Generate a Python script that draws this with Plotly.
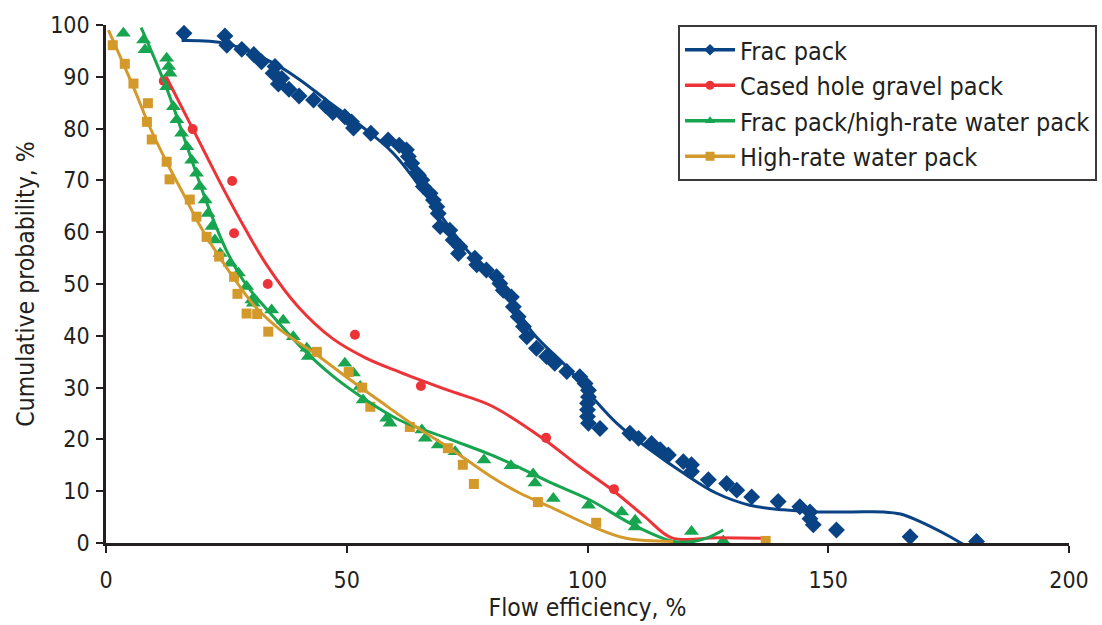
import plotly.graph_objects as go

# ---- Observed points (flow efficiency %, cumulative probability %) ----
frac_x = [16.2, 24.7, 25.1, 28.2, 30.7, 32.3, 35.1, 34.7, 36.5, 35.8, 38.0, 40.1, 43.1, 45.6,
          47.1, 49.6, 51.0, 51.4, 55.0, 58.6, 60.9, 62.4, 62.8, 63.5, 64.5, 64.9, 65.6, 65.9,
          67.3, 68.0, 68.7, 69.0, 69.4, 71.4, 72.1, 73.5, 73.2, 76.6, 77.0, 79.0, 81.1, 81.8,
          82.5, 84.2, 84.6, 85.6, 86.7, 87.4, 89.4, 91.5, 93.2, 95.7, 98.4, 99.5, 100.2, 100.2,
          100.0, 100.0, 100.0, 100.2, 102.6, 108.8, 110.6, 113.3, 115.1, 116.8, 119.9, 121.6,
          121.6, 125.1, 128.9, 131.0, 134.1, 139.6, 144.1, 146.2, 146.2, 146.9, 151.7, 167.0, 180.8]
frac_y = [98.4, 97.9, 96.1, 95.3, 94.3, 92.9, 92.0, 90.7, 89.7, 88.6, 87.6, 86.3, 85.5, 84.4,
          83.1, 82.3, 81.3, 80.1, 79.1, 77.8, 76.8, 75.9, 74.6, 73.3, 71.4, 71.0, 70.1, 68.8,
          67.5, 66.2, 64.9, 63.6, 61.1, 60.4, 58.5, 57.2, 55.9, 55.0, 53.7, 52.7, 51.4, 50.1,
          48.8, 47.5, 45.6, 43.7, 41.8, 39.8, 37.6, 36.0, 34.7, 33.1, 32.1, 30.8, 29.5, 28.2,
          27.0, 25.7, 24.4, 23.1, 22.1, 21.2, 20.2, 19.2, 18.0, 17.0, 15.7, 15.1,
          13.8, 12.2, 11.5, 10.2, 8.9, 8.0, 7.0, 6.0, 4.7, 3.5, 2.5, 1.2, 0.3]

cased_x = [12.0, 18.0, 26.2, 26.6, 33.6, 51.7, 65.4, 91.4, 105.5]
cased_y = [89.2, 79.9, 69.9, 59.8, 50.0, 40.2, 30.3, 20.3, 10.4]

fphr_x = [3.6, 7.8, 8.1, 12.6, 13.0, 13.3, 12.6, 14.0, 14.7, 15.7, 16.8, 17.8, 18.8, 19.5,
          20.6, 21.2, 22.0, 22.6, 23.7, 25.8, 27.5, 29.2, 30.3, 30.6, 34.4, 36.8, 38.9, 41.7,
          42.0, 49.6, 51.4, 52.8, 53.4, 58.3, 59.0, 65.6, 66.3, 69.0, 72.5, 78.5, 84.1, 88.7,
          89.1, 92.9, 100.2, 107.1, 109.9, 109.9, 121.6, 128.2]
fphr_y = [98.4, 97.1, 95.2, 93.6, 92.0, 90.7, 88.1, 84.2, 81.7, 79.1, 76.5, 73.9, 71.4, 68.8,
          66.2, 63.6, 61.1, 58.5, 55.9, 54.0, 52.1, 49.5, 46.9, 46.3, 45.0, 43.0, 39.8, 37.6,
          36.0, 34.7, 32.8, 30.2, 27.6, 24.1, 23.1, 21.8, 20.2, 18.9, 17.6, 16.0, 14.9, 13.3,
          11.6, 8.6, 7.3, 6.0, 4.4, 3.1, 2.2, 0.4]

hrwp_x = [1.4, 3.9, 5.7, 8.7, 8.5, 9.5, 12.6, 13.2, 17.4, 18.8, 20.9, 23.5, 26.6, 27.3,
          29.2, 31.4, 33.7, 43.8, 50.4, 53.2, 54.9, 63.1, 71.0, 74.1, 76.4, 89.7, 101.8, 137.0]
hrwp_y = [96.1, 92.5, 88.7, 84.9, 81.3, 77.9, 73.6, 70.2, 66.3, 63.0, 59.1, 55.3, 51.4, 48.1,
          44.3, 44.2, 40.8, 36.9, 33.0, 30.0, 26.3, 22.4, 18.3, 15.1, 11.4, 7.9, 3.9, 0.4]

# ---- Fitted trend curves ----
frac_fit_x = [15.7, 25.0, 34.7, 40.3, 45.8, 53.0, 59.7, 66.6, 74.9, 81.8, 88.7, 95.7, 100.5,
              106.1, 113.0, 119.9, 126.8, 133.7, 140.7, 147.6, 155.0, 161.5, 165.0, 168.4,
              175.3, 180.0]
frac_fit_y = [97.0, 96.4, 92.7, 89.4, 85.5, 80.5, 75.2, 67.0, 56.6, 50.1, 40.5, 34.0, 28.7,
              23.1, 18.0, 13.5, 9.6, 7.3, 6.4, 6.0, 6.0, 6.0, 5.6, 4.4, 1.2, -1.4]

cased_fit_x = [12.5, 18.0, 21.0, 24.3, 29.0, 33.5, 40.0, 47.0, 54.0, 61.0, 71.0, 80.0, 91.0,
               98.0, 105.5, 112.0, 117.5, 127.0, 136.0]
cased_fit_y = [90.0, 80.0, 74.5, 68.5, 60.5, 53.5, 45.5, 39.5, 35.7, 33.0, 29.5, 26.5, 20.0,
               15.0, 10.0, 5.0, 1.0, 1.0, 0.9]

fphr_fit_x = [7.3, 12.5, 17.4, 21.0, 25.0, 29.0, 33.5, 40.0, 47.0, 54.0, 61.0, 71.5, 80.0,
              86.0, 92.0, 100.5, 109.5, 117.8, 122.0, 125.4, 128.2]
fphr_fit_y = [99.5, 88.0, 75.0, 65.5, 56.5, 50.0, 45.0, 38.3, 32.3, 27.6, 23.7, 20.0, 17.0,
              14.5, 11.8, 8.3, 3.5, 0.3, 0.3, 1.2, 2.5]

hrwp_fit_x = [0.5, 5.7, 9.0, 12.6, 16.0, 19.5, 23.0, 27.8, 31.3, 36.0, 43.8, 50.0, 57.0,
              64.0, 71.4, 80.0, 86.0, 92.2, 101.2, 108.0, 117.8]
hrwp_fit_y = [99.0, 88.0, 80.5, 73.5, 67.5, 61.3, 56.0, 49.5, 45.3, 41.3, 36.3, 32.0, 27.3,
              22.7, 18.3, 12.8, 9.6, 7.0, 3.1, 0.9, 0.3]

x_ticks = [0, 50, 100, 150, 200]
y_ticks = [0, 10, 20, 30, 40, 50, 60, 70, 80, 90, 100]

FONT = "DejaVu Sans Condensed, Liberation Sans Narrow, Arial Narrow, sans-serif"
INK = "#231f20"

series = [
    ("Frac pack", frac_x, frac_y, frac_fit_x, frac_fit_y, "#0a4383", "diamond", 13),
    ("Cased hole gravel pack", cased_x, cased_y, cased_fit_x, cased_fit_y, "#ec3338", "circle", 10),
    ("Frac pack/high-rate water pack", fphr_x, fphr_y, fphr_fit_x, fphr_fit_y, "#17a54f", "triangle-up", 13),
    ("High-rate water pack", hrwp_x, hrwp_y, hrwp_fit_x, hrwp_fit_y, "#d4992b", "square", 10),
]

fig = go.Figure()

for name, px_, py_, fx, fy, color, symbol, size in series:
    fig.add_trace(go.Scatter(
        x=px_, y=py_, mode="markers", showlegend=False, legendgroup=name,
        marker=dict(symbol=symbol, size=size, color=color, line=dict(width=0)),
        hoverinfo="x+y", name=name))

for name, px_, py_, fx, fy, color, symbol, size in series:
    fig.add_trace(go.Scatter(
        x=fx, y=fy, mode="lines", showlegend=False, legendgroup=name,
        line=dict(color=color, width=3, shape="spline", smoothing=1.0),
        hoverinfo="skip", name=name))

# legend entries: line with marker
for name, px_, py_, fx, fy, color, symbol, size in series:
    fig.add_trace(go.Scatter(
        x=[None], y=[None], mode="lines+markers", name=name, legendgroup=name,
        line=dict(color=color, width=3.5),
        marker=dict(symbol=symbol, size=9, color=color)))

axis_common = dict(
    showline=True, linecolor=INK, linewidth=2.5, mirror=False,
    ticks="outside", tickcolor=INK, tickwidth=2, ticklen=7,
    showgrid=False, zeroline=False,
    tickfont=dict(family=FONT, size=23, color=INK),
)

fig.update_layout(
    width=1102, height=625,
    margin=dict(l=106, r=33, t=25, b=82, autoexpand=False),
    paper_bgcolor="white", plot_bgcolor="white",
    font=dict(family=FONT, color=INK),
    xaxis=dict(range=[0, 200], tickvals=x_ticks, ticklabelstandoff=8,
               title=dict(text="Flow efficiency, %", font=dict(family=FONT, size=24.5, color=INK),
                          standoff=4),
               **axis_common),
    yaxis=dict(range=[0, 100], tickvals=y_ticks, ticklabelstandoff=2,
               title=dict(text="Cumulative probability, %", font=dict(family=FONT, size=24.5, color=INK),
                          standoff=9),
               **axis_common),
    legend=dict(x=0.594, y=1.0, xanchor="left", yanchor="top",
                bgcolor="white", bordercolor="#3a3a3a", borderwidth=2,
                font=dict(family=FONT, size=25, color=INK),
                itemwidth=50, tracegroupgap=0),
)

fig.write_html("out.html")
